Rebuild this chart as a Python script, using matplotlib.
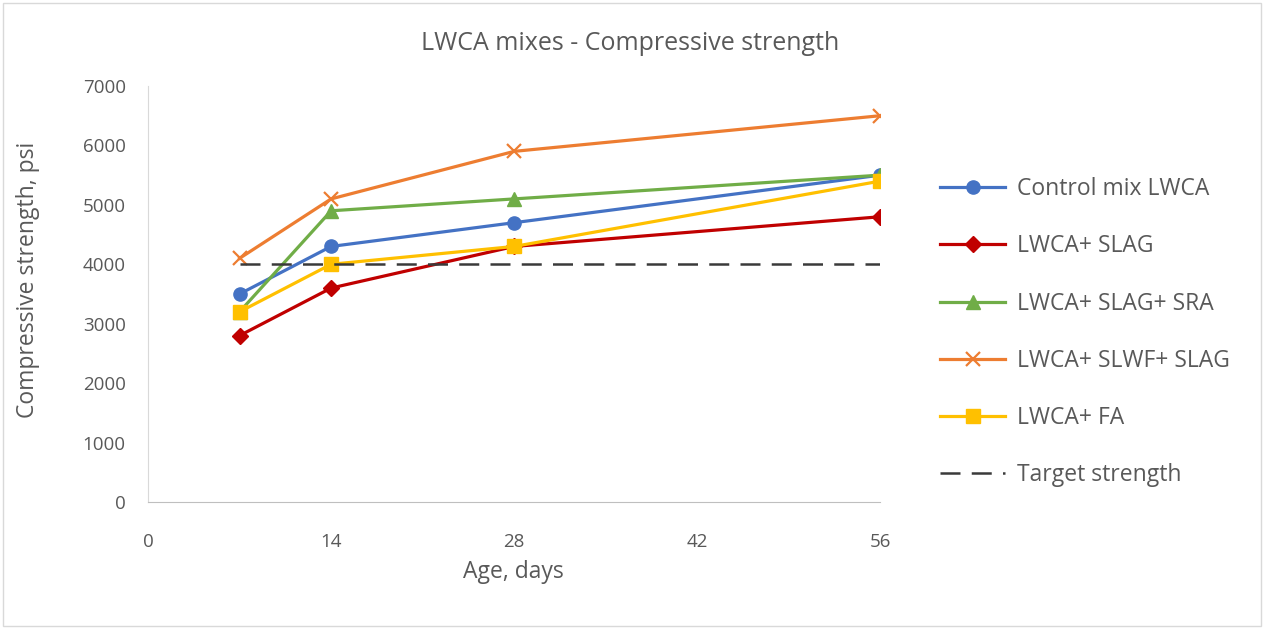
import matplotlib.pyplot as plt
from matplotlib.patches import Rectangle

plt.rcParams['font.family'] = ['Open Sans', 'DejaVu Sans']

# Data
days = [7, 14, 28, 56]
control = [3500, 4300, 4700, 5500]
slag = [2800, 3600, 4300, 4800]
slag_sra = [3200, 4900, 5100, 5500]
slwf_slag = [4100, 5100, 5900, 6500]
fa = [3200, 4000, 4300, 5400]
target_days = [7, 56]
target = [4000, 4000]

text_col = '#595959'

fig = plt.figure(figsize=(12.65, 6.28), dpi=100)
ax = fig.add_axes([0.117, 0.2006, 0.579, 0.6625])

lw = 2.3
ax.plot(days, control, color='#4472C4', lw=lw, marker='o', ms=9.5, label='Control mix LWCA')
ax.plot(days, slag, color='#C00000', lw=lw, marker='D', ms=8, label='LWCA+ SLAG')
ax.plot(days, slag_sra, color='#70AD47', lw=lw, marker='^', ms=9.5, label='LWCA+ SLAG+ SRA')
ax.plot(days, slwf_slag, color='#ED7D31', lw=lw, marker='x', ms=9.5, mew=1.6, label='LWCA+ SLWF+ SLAG')
ax.plot(days, fa, color='#FFC000', lw=lw, marker='s', ms=9.5, label='LWCA+ FA')
ax.plot(target_days, target, color='#3A3A3A', lw=1.8, ls=(0, (8, 4.5)), label='Target strength')

ax.set_xlim(0, 56)
ax.set_ylim(0, 7000)
ax.set_xticks([0, 14, 28, 42, 56])
ax.set_yticks(range(0, 7001, 1000))

for s in ['top', 'right']:
    ax.spines[s].set_visible(False)
ax.spines['bottom'].set_color('#BFBFBF')
ax.spines['left'].set_color('#D9D9D9')
ax.tick_params(axis='x', colors=text_col, labelsize=13.5, length=0, pad=22)
ax.tick_params(axis='y', colors=text_col, labelsize=13.5, length=0, pad=16)

fig.text(0.406, 0.089, 'Age, days', fontsize=16.5, color=text_col, ha='center', va='center')
fig.text(0.022, 0.554, 'Compressive strength, psi', fontsize=16.5, color=text_col,
         ha='center', va='center', rotation=90)
fig.text(0.498, 0.9315, 'LWCA mixes - Compressive strength', fontsize=18,
         color=text_col, ha='center', va='center')

leg = fig.legend(*ax.get_legend_handles_labels(), loc='center left',
                 bbox_to_anchor=(0.743, 0.471), frameon=False,
                 fontsize=16.5, labelcolor=text_col, handlelength=2.85,
                 labelspacing=1.45, handletextpad=0.5, borderpad=0, borderaxespad=0)

fig.patches.append(Rectangle((0.002, 0.003), 0.995, 0.993, transform=fig.transFigure,
                             fill=False, edgecolor='#D9D9D9', lw=1))

fig.savefig('out.png', dpi=100)
